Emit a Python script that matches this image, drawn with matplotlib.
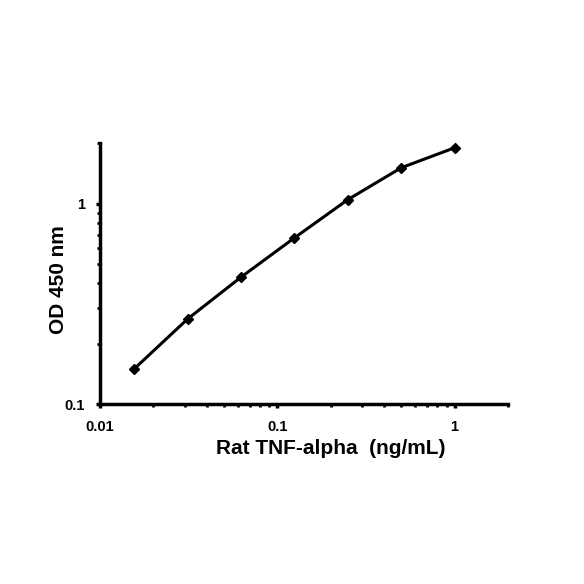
import matplotlib
matplotlib.use("Agg")
import matplotlib.pyplot as plt
from matplotlib.ticker import FixedLocator, FixedFormatter, LogLocator, NullFormatter

plt.rcParams['font.family'] = ['Liberation Sans', 'DejaVu Sans']

concentration = [0.015625, 0.03125, 0.0625, 0.125, 0.25, 0.5, 1.0]
od450 = [0.150, 0.266, 0.430, 0.675, 1.047, 1.51, 1.90]
x_ticks = [0.01, 0.1, 1]
x_tick_labels = ["0.01", "0.1", "1"]
y_ticks = [0.1, 1]
y_tick_labels = ["0.1", "1"]

fig = plt.figure(figsize=(5.84, 5.84), dpi=100)
ax = fig.add_axes([100/584, 1-404/584, 408/584, (404-143.3)/584])
ax.plot(concentration, od450, color='black', lw=2.2, marker='D', markersize=5,
        markerfacecolor='black', markeredgecolor='black', solid_joinstyle='round')
ax.set_xscale('log')
ax.set_yscale('log')
ax.set_xlim(0.01, 2)
ax.set_ylim(0.1, 2)
ax.xaxis.set_major_locator(FixedLocator(x_ticks))
ax.xaxis.set_major_formatter(FixedFormatter(x_tick_labels))
ax.yaxis.set_major_locator(FixedLocator(y_ticks))
ax.yaxis.set_major_formatter(FixedFormatter(y_tick_labels))
ax.xaxis.set_minor_locator(LogLocator(base=10, subs=range(2, 10)))
ax.yaxis.set_minor_locator(LogLocator(base=10, subs=range(2, 10)))
ax.xaxis.set_minor_formatter(NullFormatter())
ax.yaxis.set_minor_formatter(NullFormatter())
for s in ['top', 'right']:
    ax.spines[s].set_visible(False)
for s in ['left', 'bottom']:
    ax.spines[s].set_linewidth(2.5)
ax.tick_params(which='major', direction='out', length=3, width=2.5, labelsize=10.5)
ax.tick_params(axis='x', which='major', pad=8.5)
ax.tick_params(axis='y', which='major', pad=8)
ax.tick_params(which='minor', direction='out', length=2, width=2)
for lab in ax.get_xticklabels() + ax.get_yticklabels():
    lab.set_fontweight('bold')
ax.set_xlabel('Rat TNF-alpha  (ng/mL)', fontsize=15, fontweight='bold')
ax.set_ylabel('OD 450 nm', fontsize=15, fontweight='bold')
ax.xaxis.set_label_coords((331-100)/408, (404-449)/260.7)
ax.xaxis.label.set_va('center')
ax.yaxis.set_label_coords((58-100)/408, (404-280)/260.7)
ax.yaxis.label.set_va('center')
ax.yaxis.label.set_ha('center')
fig.savefig('out.png', dpi=100)
